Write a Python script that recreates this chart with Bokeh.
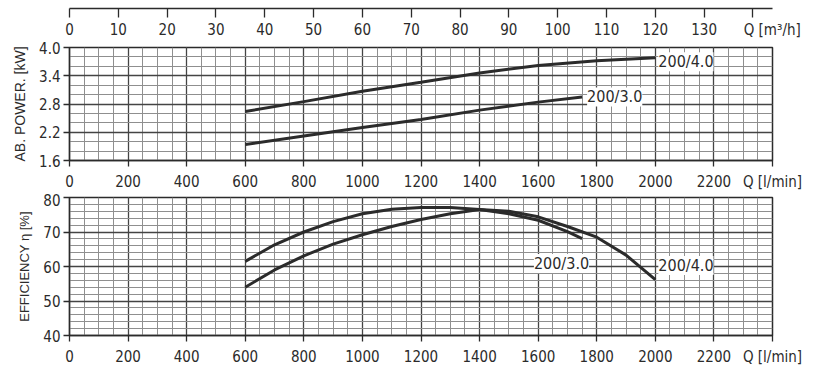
from bokeh.plotting import figure
from bokeh.layouts import column
from bokeh.models import Range1d, FixedTicker, Label, PrintfTickFormatter
from bokeh.embed import file_html
from bokeh.resources import INLINE

# ---------------- data ----------------
q_ticks = [0, 200, 400, 600, 800, 1000, 1200, 1400, 1600, 1800, 2000, 2200, 2400]
q_minor = list(range(0, 2401, 50))
m3h_ticks = [0, 10, 20, 30, 40, 50, 60, 70, 80, 90, 100, 110, 120, 130, 140]
power_ticks = [1.6, 2.2, 2.8, 3.4, 4.0]
power_minor = [1.6, 1.8, 2.0, 2.2, 2.4, 2.6, 2.8, 3.0, 3.2, 3.4, 3.6, 3.8, 4.0]
eff_ticks = [40, 50, 60, 70, 80]
eff_minor = list(range(40, 81, 2))

q_power_40 = [600, 800, 1000, 1200, 1400, 1600, 1800, 2000]
power_40 = [2.64, 2.85, 3.07, 3.26, 3.46, 3.62, 3.72, 3.78]
q_power_30 = [600, 800, 1000, 1200, 1400, 1600, 1750]
power_30 = [1.94, 2.12, 2.30, 2.47, 2.67, 2.84, 2.95]

q_eff_30 = [600, 700, 800, 900, 1000, 1100, 1200, 1300, 1400, 1500, 1600, 1700, 1750]
eff_30 = [61.5, 66.3, 70.0, 73.0, 75.3, 76.6, 77.1, 77.1, 76.5, 75.3, 73.4, 70.1, 68.1]
q_eff_40 = [600, 700, 800, 900, 1000, 1100, 1200, 1300, 1400, 1500, 1600, 1700, 1800, 1900, 2000]
eff_40 = [54.0, 59.0, 63.1, 66.5, 69.2, 71.6, 73.6, 75.3, 76.5, 76.0, 74.4, 71.6, 68.5, 63.3, 56.2]

name_40 = "200/4.0"
name_30 = "200/3.0"
q_lmin_title = "Q [l/min]"
q_m3h_title = "Q [m³/h]"

# ---------------- style ----------------
TICK_FONT = "DejaVu Sans Condensed"
LBL_FONT = "DejaVu Sans Condensed"
INK = "#2b2b2b"
LEFT, RIGHT, FW = 69, 41, 703
NBSP = "\u00a0"


def style_axis(ax, size="15px"):
    ax.axis_line_color = INK
    ax.axis_line_width = 1.3
    ax.major_tick_line_color = INK
    ax.major_tick_line_width = 1.3
    ax.minor_tick_line_color = None
    ax.major_label_text_font = TICK_FONT
    ax.major_label_text_font_size = size
    ax.major_label_text_color = INK


def panel(fh, ymin, ymax, yticks, yminor, top_b, bot_b, ylabel, ylabel_size):
    p = figure(frame_width=FW, frame_height=fh,
               x_range=Range1d(q_ticks[0], q_ticks[-1]), y_range=Range1d(ymin, ymax),
               output_backend="svg", toolbar_location=None,
               min_border_left=LEFT, min_border_right=RIGHT,
               min_border_top=top_b, min_border_bottom=bot_b)
    p.background_fill_color = "white"
    p.border_fill_color = "white"
    p.outline_line_color = INK
    p.outline_line_width = 1.5
    p.xaxis.ticker = FixedTicker(ticks=q_ticks, minor_ticks=q_minor)
    p.yaxis.ticker = FixedTicker(ticks=yticks, minor_ticks=yminor)
    # the last tick carries the axis title, centred under the right edge
    p.xaxis.major_label_overrides = {q_ticks[-1]: q_lmin_title}
    for ax in (p.xaxis[0], p.yaxis[0]):
        style_axis(ax)
        ax.major_tick_out = 6
        ax.major_tick_in = 0
    p.xaxis.major_label_standoff = 6
    p.yaxis.major_label_standoff = 3
    p.yaxis.axis_label = ylabel
    p.yaxis.axis_label_text_font = "Liberation Sans"
    p.yaxis.axis_label_text_font_style = "normal"
    p.yaxis.axis_label_text_font_size = ylabel_size
    p.yaxis.axis_label_text_color = INK
    p.yaxis.axis_label_standoff = 8
    for g in (p.xgrid[0], p.ygrid[0]):
        g.grid_line_color = "#444444"
        g.grid_line_width = 1.3
        g.minor_grid_line_color = "#8f8f8f"
        g.minor_grid_line_width = 1
    return p


def curve_label(p, x, y, text, xo, yo, align):
    p.add_layout(Label(x=x, y=y, text=text, x_offset=xo, y_offset=yo,
                       text_align=align, text_baseline="middle", text_font=LBL_FONT,
                       text_font_size="16px", text_color=INK,
                       background_fill_color="white", background_fill_alpha=1.0))


# ---------------- top m3/h axis strip ----------------
top = figure(frame_width=FW, frame_height=8, x_range=Range1d(0, q_ticks[-1] * 60 / 1000),
             y_range=Range1d(0, 1), output_backend="svg", toolbar_location=None,
             min_border_left=LEFT, min_border_right=RIGHT, min_border_top=0, min_border_bottom=30,
             y_axis_location=None)
top.outline_line_color = None
top.xgrid.visible = False
top.ygrid.visible = False
top.xaxis.ticker = FixedTicker(ticks=m3h_ticks)
top.xaxis.major_label_overrides = {m3h_ticks[-1]: NBSP * 9 + q_m3h_title}
style_axis(top.xaxis[0])
top.xaxis.major_tick_out = 9
top.xaxis.major_tick_in = 0
top.xaxis.major_label_standoff = 3

# ---------------- power panel ----------------
pw = panel(113, power_ticks[0], power_ticks[-1], power_ticks, power_minor, 6, 28,
           "AB. POWER. [kW]", "14px")
pw.yaxis.formatter = PrintfTickFormatter(format="%.1f")
pw.line(q_power_40, power_40, line_width=3, line_color=INK)
pw.line(q_power_30, power_30, line_width=3, line_color=INK)
curve_label(pw, q_power_40[-1], power_40[-1], name_40, 3, -4, "left")
curve_label(pw, q_power_30[-1], power_30[-1], name_30, 5, 0, "left")

# ---------------- efficiency panel ----------------
ef = panel(138, eff_ticks[0], eff_ticks[-1], eff_ticks, eff_minor, 4, 38,
           "EFFICIENCY η [%]", "13px")
ef.line(q_eff_30, eff_30, line_width=3, line_color=INK)
ef.line(q_eff_40, eff_40, line_width=3, line_color=INK)
curve_label(ef, q_eff_30[-1], eff_30[-1], name_30, 7, -25, "right")
curve_label(ef, q_eff_40[-1], eff_40[-1], name_40, 3, 14, "left")

layout = column(top, pw, ef, spacing=0)
open("out.html", "w").write(file_html(layout, INLINE))
